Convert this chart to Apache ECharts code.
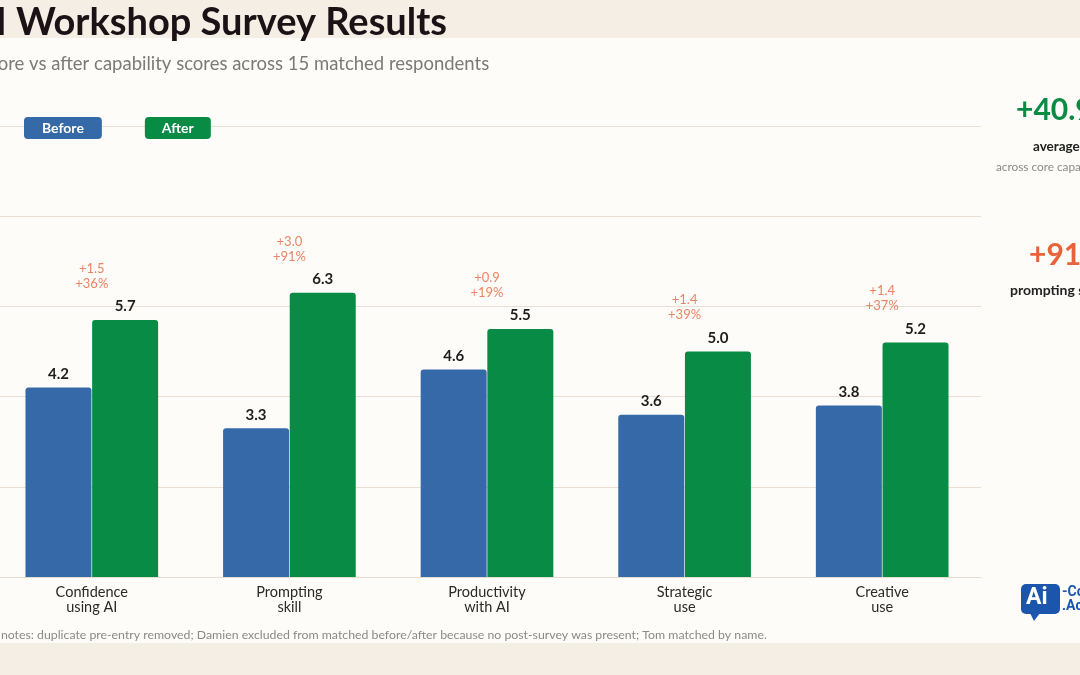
<!DOCTYPE html>
<html>
<head>
<meta charset="utf-8">
<script src="https://cdn.jsdelivr.net/npm/echarts@6.0.0/dist/echarts.min.js"></script>
<style>
  html, body { margin: 0; padding: 0; background: #f4eee5; overflow: hidden; }
  /* shifted 8px left so the first category can sit partly off the page */
  #chart { width: 1088px; height: 675px; margin-left: -8px; }
</style>
</head>
<body>
<div id="chart"></div>
<script>
  // survey data
  var categories = ['Confidence\nusing AI', 'Prompting\nskill', 'Productivity\nwith AI', 'Strategic\nuse', 'Creative\nuse']
  var beforeScores = [4.2, 3.3, 4.6, 3.6, 3.8]
  var afterScores = [5.7, 6.3, 5.5, 5.0, 5.2]
  var deltaAbs = ['+1.5', '+3.0', '+0.9', '+1.4', '+1.4']
  var deltaPct = ['+36%', '+91%', '+19%', '+39%', '+37%']
  var yTicks = [0, 2, 4, 6, 8, 10]

  var blue = '#3669a8'
  var green = '#078b45'
  var orange = '#e5653f'
  var font = 'Lato, "Noto Sans", sans-serif'
  var dx = 8 // page x -> chart x

  var chart = echarts.init(document.getElementById('chart'))

  chart.setOption({
    backgroundColor: '#f4eee5',
    animation: false,
    textStyle: { fontFamily: font },
    grid: {
      left: 1,
      right: 99,
      top: 126,
      bottom: 98
    },
    legend: {
      left: 19 + dx,
      top: 117,
      padding: 0,
      icon: 'none',
      itemWidth: 0,
      itemHeight: 0,
      itemGap: 38,
      selectedMode: false,
      data: [
        { name: 'Before', textStyle: { backgroundColor: blue, color: '#fff', fontWeight: 'bold', fontSize: 14, padding: [4, 18, 4, 18], borderRadius: 4 } },
        { name: 'After', textStyle: { backgroundColor: green, color: '#fff', fontWeight: 'bold', fontSize: 14, padding: [4, 17, 4, 17], borderRadius: 4 } }
      ]
    },
    xAxis: {
      type: 'category',
      data: categories,
      axisLine: { lineStyle: { color: '#e6dccf' } },
      axisTick: { alignWithLabel: true, length: 4, lineStyle: { color: '#888' } },
      axisLabel: { color: '#2a2a2a', fontSize: 14.5, lineHeight: 15, margin: 8 }
    },
    yAxis: {
      type: 'value',
      min: yTicks[0],
      max: yTicks[yTicks.length - 1],
      interval: 2,
      axisLabel: { show: false },
      axisLine: { show: false },
      axisTick: { show: false },
      splitLine: { lineStyle: { color: '#eadfd2' } }
    },
    graphic: [
      { type: 'rect', z: -10, shape: { x: 0, y: 38, width: 1100, height: 605 }, style: { fill: '#fdfcf8' } },
      { type: 'text', left: -31 + dx, top: 4, style: { text: 'AI Workshop Survey Results', fontSize: 38, fontWeight: 'bold', fill: '#1c1216', fontFamily: font } },
      { type: 'text', left: -30 + dx, top: 55, style: { text: 'Before vs after capability scores across 15 matched respondents', fontSize: 18.5, fill: '#7a7a7a', fontFamily: font } },
      { type: 'text', left: -28 + dx, top: 629, style: { text: 'Data notes: duplicate pre-entry removed; Damien excluded from matched before/after because no post-survey was present; Tom matched by name.', fontSize: 12.3, fill: '#8a8a8a', fontFamily: font } },
      // side panel
      { type: 'text', left: 1016 + dx, top: 95, style: { text: '+40.9%', fontSize: 30, fontWeight: 'bold', fill: '#0a8a43', fontFamily: font } },
      { type: 'text', left: 1033 + dx, top: 140, style: { text: 'average uplift', fontSize: 13.5, fontWeight: 'bold', fill: '#222', fontFamily: font } },
      { type: 'text', left: 996 + dx, top: 161, style: { text: 'across core capabilities', fontSize: 11.8, fill: '#8a8a8a', fontFamily: font } },
      { type: 'text', left: 1029 + dx, top: 240, style: { text: '+91%', fontSize: 30, fontWeight: 'bold', fill: '#e8623a', fontFamily: font } },
      { type: 'text', left: 1010 + dx, top: 283, style: { text: 'prompting skill', fontSize: 14, fontWeight: 'bold', fill: '#222', fontFamily: font } },
      // logo
      { type: 'rect', shape: { x: 1021 + dx, y: 584, width: 39, height: 30, r: 5 }, style: { fill: '#1c55ac' } },
      { type: 'polygon', shape: { points: [[1030 + dx, 613], [1034 + dx, 621], [1040 + dx, 613]] }, style: { fill: '#1c55ac' } },
      { type: 'text', left: 1026 + dx, top: 587, style: { text: 'Ai', fontSize: 23, fontWeight: 'bold', fill: '#fff', fontFamily: 'Roboto, sans-serif' } },
      { type: 'text', left: 1062 + dx, top: 585, style: { text: '-Consult', fontSize: 14, fontWeight: 'bold', fill: '#1c55ac', lineHeight: 14, fontFamily: 'Roboto, sans-serif' } },
      { type: 'text', left: 1062 + dx, top: 599, style: { text: '.Academy', fontSize: 14, fontWeight: 'bold', fill: '#1c55ac', lineHeight: 14, fontFamily: 'Roboto, sans-serif' } }
    ],
    series: [
      {
        name: 'Before',
        type: 'bar',
        barWidth: 66,
        barGap: '1%',
        data: beforeScores,
        itemStyle: { color: blue, borderRadius: [3, 3, 0, 0] },
        label: {
          show: true,
          position: 'top',
          distance: 6,
          color: '#1e1e1e',
          fontSize: 15,
          fontWeight: 'bold',
          formatter: function (p) { return p.value.toFixed(1) }
        }
      },
      {
        name: 'After',
        type: 'bar',
        barWidth: 66,
        barGap: '1%',
        data: afterScores,
        itemStyle: { color: green, borderRadius: [3, 3, 0, 0] },
        label: {
          show: true,
          position: 'top',
          distance: 6,
          color: '#1e1e1e',
          fontSize: 15,
          fontWeight: 'bold',
          formatter: function (p) { return p.value.toFixed(1) }
        }
      },
      {
        name: 'delta',
        type: 'scatter',
        symbolSize: 0,
        silent: true,
        data: afterScores,
        label: {
          show: true,
          position: 'top',
          distance: 29,
          color: orange,
          fontSize: 13,
          lineHeight: 15,
          formatter: function (p) { return deltaAbs[p.dataIndex] + '\n' + deltaPct[p.dataIndex] }
        }
      }
    ]
  })
</script>
</body>
</html>
